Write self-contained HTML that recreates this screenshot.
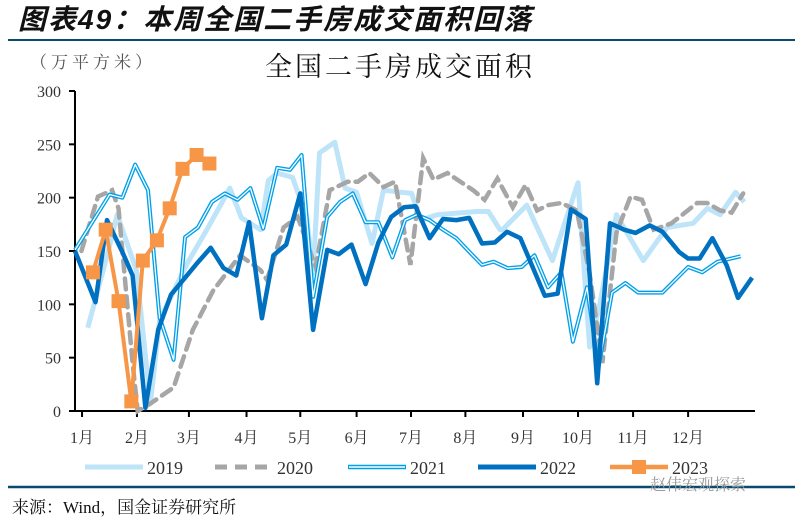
<!DOCTYPE html>
<html><head><meta charset="utf-8">
<style>
body{margin:0;background:#fff;width:795px;height:523px;overflow:hidden;font-family:"Liberation Serif","Noto Serif CJK SC",serif;}
svg text{font-family:"Liberation Serif","Noto Serif CJK SC",serif;}
</style></head>
<body>
<svg id="chart" width="795" height="523" xmlns="http://www.w3.org/2000/svg">
<text x="18" y="29" font-size="28" font-weight="bold" font-style="italic" letter-spacing="2" fill="#111" style="font-family:'Liberation Sans','Noto Sans CJK SC',sans-serif">图表49：本周全国二手房成交面积回落</text>
<line x1="8" y1="40" x2="795" y2="40" stroke="#0b4a6f" stroke-width="2"/>
<text x="30" y="68" font-size="17" letter-spacing="4" fill="#555">（万平方米）</text>
<text x="400" y="76" font-size="27" letter-spacing="3" text-anchor="middle" fill="#111">全国二手房成交面积</text>
<g id="axes"></g>
<g id="series"></g>
<g id="legend"></g>
<line x1="8" y1="487" x2="795" y2="487" stroke="#0b4a6f" stroke-width="2.5"/>
<text x="12" y="513" font-size="17" fill="#111">来源：Wind，国金证券研究所</text>
<text x="650" y="490" font-size="16" fill="#999">赵伟宏观探索</text>
</svg>
<script>
const yTicks=[0,50,100,150,200,250,300];
const monthLabels=["1月","2月","3月","4月","5月","6月","7月","8月","9月","10月","11月","12月"];
const monthWeeks=[0.55,4.84,8.9,13.4,17.6,22.0,26.25,30.5,35.0,39.3,43.6,47.9];
const years=["2019","2020","2021","2022","2023"];
const w2019=[1.0,2.6,3.3,4.8,5.9,6.6,8.8,10.3,12.1,13.0,14.5,15.1,15.8,17.0,18.1,18.6,19.1,20.3,21.1,22.0,23.2,24.1,25.5,26.3,27.0,28.3,31.4,32.3,33.2,33.4,35.3,37.3,39.3,40.2,41.0,42.3,44.4,46.25,48.3,49.4,50.4,51.6,52.3];
const v2019=[78,150,184,132,7,85,139,170,209,181,170,216,223,219,181,129,242,252,209,205,157,207,205,204,179,184,187,187,170,170,193,141,214,60,100,184,141,172,176,190,184,205,196];
const w2020=[0.5,1.8,2.9,3.4,4.5,4.9,5.9,7.7,9.2,10.8,12.9,14.5,15.0,16.3,17.4,18.8,19.9,21.3,22.1,23.0,24.1,25.0,26.2,27.2,28.0,29.1,31.1,32.0,33.0,34.2,35.2,36.1,36.95,38.0,39.2,40.2,41.2,42.3,43.4,44.3,45.2,46.6,48.6,49.4,50.4,51.3,52.2];
const v2020=[150,201,207,190,45,0,7,22,76,113,146,132,123,172,182,135,207,215,215,223,210,215,137,237,217,223,207,198,218,191,212,188,193,195,188,129,45,167,201,198,170,176,195,195,188,186,204];
const w2021=[0,2.7,3.7,4.7,5.7,6.6,7.7,8.6,9.6,10.7,11.7,12.7,13.7,14.7,15.8,16.8,17.7,18.6,19.7,20.7,21.7,22.7,23.7,24.8,25.8,26.7,27.7,28.75,29.8,30.9,31.8,32.7,33.8,34.9,35.9,36.95,38.0,38.9,40.0,40.9,41.95,43.0,44.0,45.9,47.9,49.0,50.2,52.0];
const v2021=[151,203,200,231,207,88,48,163,172,196,204,198,209,171,228,226,240,107,182,196,204,177,177,144,179,184,179,170,162,148,137,140,134,135,146,116,130,65,116,41,111,120,111,111,135,130,140,145];
const w2022=[0,1.6,2.5,3.7,4.5,5.5,6.5,7.5,9.5,10.6,11.6,12.6,13.6,14.6,15.5,16.5,17.6,18.6,19.7,20.6,21.6,22.7,23.7,24.7,25.7,26.6,27.7,28.75,29.8,30.8,31.8,32.8,33.75,34.8,36.7,37.7,38.75,39.9,40.8,41.8,42.9,43.8,44.9,45.9,47.2,47.9,48.8,49.8,50.9,51.8,52.9];
const v2022=[150,102,179,149,127,3,76,109,138,153,134,127,177,87,146,156,204,76,151,147,156,119,158,182,191,192,162,180,179,181,157,158,168,162,108,110,189,180,26,176,170,167,174,168,149,143,143,162,137,106,125];
const w2023=[1.4,2.4,3.4,4.4,5.3,6.4,7.4,8.4,9.5,10.5];
const v2023=[130,170,103,9,141,160,190,227,240,232];

const NS="http://www.w3.org/2000/svg";
const X0=75,X1=755,Y0=411,Y1=91;
function xS(w){return X0+w*12.8;}
function yS(v){return Y0-(v/300)*(Y0-Y1);}
function mk(tag,attrs,parent){const e=document.createElementNS(NS,tag);for(const k in attrs)e.setAttribute(k,attrs[k]);parent.appendChild(e);return e;}
const axes=document.getElementById('axes');
let e=mk('line',{x1:X0,y1:Y1,x2:X0,y2:Y0,stroke:'#000','stroke-width':2},axes);


e=mk('line',{x1:X0,y1:Y0,x2:X1,y2:Y0,stroke:'#000','stroke-width':2},axes);


yTicks.forEach(t=>{
  const tk=mk('line',{x1:X0-6,y1:yS(t),x2:X0,y2:yS(t),stroke:'#000','stroke-width':2},axes);
  
  
  const tx=mk('text',{x:61,y:yS(t)+6,'text-anchor':'end','font-size':16,fill:'#333'},axes);
  tx.textContent=t;
  
  
});
monthLabels.forEach((m,i)=>{
  const x=xS(monthWeeks[i]);
  const tk=mk('line',{x1:x,y1:Y0,x2:x,y2:Y0+6,stroke:'#000','stroke-width':2},axes);
  
  
  const tx=mk('text',{x:x,y:Y0+32,'text-anchor':'middle','font-size':16,fill:'#333'},axes);
  tx.textContent=m;
  
  
});
const sg=document.getElementById('series');
function pts(ws,vs){return ws.map((w,i)=>xS(w).toFixed(1)+','+yS(vs[i]).toFixed(1)).join(' ');}
let p=mk('polyline',{points:pts(w2019,v2019),fill:'none',stroke:'#bde4f8','stroke-width':5,'stroke-linejoin':'round'},sg);


p=mk('polyline',{points:pts(w2020,v2020),fill:'none',stroke:'#a6a6a6','stroke-width':4.5,'stroke-dasharray':'11,7','stroke-linecap':'round'},sg);


p=mk('polyline',{points:pts(w2021,v2021),fill:'none',stroke:'#00a0e9','stroke-width':4,'stroke-linejoin':'round'},sg);


p=mk('polyline',{points:pts(w2021,v2021),fill:'none',stroke:'#fff','stroke-width':1.3,'stroke-linejoin':'round'},sg);


p=mk('polyline',{points:pts(w2022,v2022),fill:'none',stroke:'#0070c0','stroke-width':4.5,'stroke-linejoin':'round'},sg);


p=mk('polyline',{points:pts(w2023,v2023),fill:'none',stroke:'#f79646','stroke-width':4,'stroke-linejoin':'round'},sg);


w2023.forEach((w,i)=>{
  const r=mk('rect',{x:xS(w)-7,y:yS(v2023[i])-7,width:14,height:14,fill:'#f79646'},sg);
  
  
});
const lg=document.getElementById('legend');
const lx=[85,215,348,478,610];
const LY=467;
years.forEach((y,i)=>{
  const x=lx[i];
  if(i===0){const l=mk('line',{x1:x,y1:LY,x2:x+58,y2:LY,stroke:'#bde4f8','stroke-width':5},lg);}
  if(i===1){const l=mk('line',{x1:x,y1:LY,x2:x+58,y2:LY,stroke:'#a6a6a6','stroke-width':5,'stroke-dasharray':'12,8'},lg);}
  if(i===2){const l=mk('line',{x1:x,y1:LY,x2:x+58,y2:LY,stroke:'#00a0e9','stroke-width':4.5},lg);const l2=mk('line',{x1:x+1,y1:LY,x2:x+57,y2:LY,stroke:'#fff','stroke-width':1.4},lg);}
  if(i===3){const l=mk('line',{x1:x,y1:LY,x2:x+58,y2:LY,stroke:'#0070c0','stroke-width':5},lg);}
  if(i===4){const l=mk('line',{x1:x,y1:LY,x2:x+58,y2:LY,stroke:'#f79646','stroke-width':4.5},lg);const r=mk('rect',{x:x+22,y:LY-7,width:14,height:14,fill:'#f79646'},lg);}
  const t=mk('text',{x:x+62,y:LY+7,'font-size':18,fill:'#333'},lg);
  t.textContent=y;
  
  
});
</script>
</body></html>
